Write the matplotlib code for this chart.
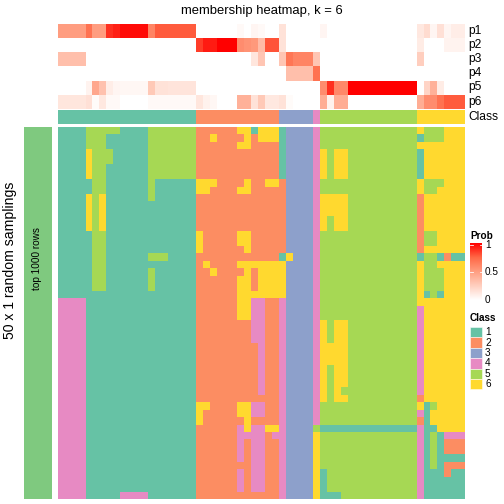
import numpy as np
import matplotlib
matplotlib.use('Agg')
import matplotlib.pyplot as plt
from matplotlib.colors import ListedColormap, LinearSegmentedColormap
from matplotlib.patches import Rectangle

plt.rcParams['font.family'] = ['Liberation Sans', 'DejaVu Sans']

# class colours (1..6)
CLASS_COLORS = ['#66C2A5', '#FC8D62', '#8DA0CB', '#E78AC3', '#A6D854', '#FFD92F']
CLASS_LABELS = ['1', '2', '3', '4', '5', '6']
PROB_ROWS = ['p1', 'p2', 'p3', 'p4', 'p5', 'p6']

# membership probabilities, one value per column (59 columns)
p1 = [0.50, 0.50, 0.50, 0.50, 0.70, 0.50, 0.50, 0.88, 0.92, 0.97,
      0.97, 0.97, 0.97, 0.62, 0.78, 0.78, 0.78, 0.78, 0.78, 0.78,
      0.00, 0.00, 0.00, 0.00, 0.00, 0.00, 0.03, 0.00, 0.05, 0.03,
      0.00, 0.00, 0.15, 0.00, 0.00, 0.00, 0.00, 0.00, 0.05, 0.00,
      0.00, 0.00, 0.00, 0.00, 0.00, 0.00, 0.00, 0.00, 0.00, 0.00,
      0.00, 0.00, 0.12, 0.18, 0.05, 0.16, 0.05, 0.09, 0.09]
p2 = [0.00, 0.00, 0.00, 0.00, 0.00, 0.00, 0.00, 0.00, 0.00, 0.00,
      0.00, 0.00, 0.00, 0.00, 0.00, 0.00, 0.00, 0.00, 0.00, 0.00,
      0.85, 0.93, 0.93, 1.00, 1.00, 1.00, 0.58, 0.55, 0.52, 0.35,
      0.80, 0.80, 0.15, 0.00, 0.00, 0.00, 0.00, 0.00, 0.00, 0.00,
      0.00, 0.00, 0.00, 0.00, 0.00, 0.00, 0.00, 0.00, 0.00, 0.00,
      0.00, 0.00, 0.10, 0.00, 0.00, 0.00, 0.06, 0.06, 0.06]
p3 = [0.33, 0.33, 0.33, 0.33, 0.00, 0.00, 0.00, 0.00, 0.00, 0.00,
      0.00, 0.00, 0.00, 0.00, 0.00, 0.00, 0.00, 0.00, 0.00, 0.00,
      0.00, 0.00, 0.00, 0.00, 0.00, 0.00, 0.00, 0.00, 0.13, 0.30,
      0.00, 0.00, 0.30, 0.68, 0.62, 0.62, 0.62, 0.30, 0.00, 0.00,
      0.00, 0.00, 0.00, 0.00, 0.00, 0.00, 0.00, 0.00, 0.00, 0.00,
      0.00, 0.00, 0.25, 0.00, 0.00, 0.00, 0.00, 0.00, 0.00]
p4 = [0.00, 0.00, 0.00, 0.00, 0.00, 0.00, 0.00, 0.00, 0.00, 0.00,
      0.00, 0.00, 0.00, 0.00, 0.00, 0.00, 0.00, 0.00, 0.00, 0.00,
      0.00, 0.00, 0.00, 0.00, 0.00, 0.00, 0.00, 0.00, 0.00, 0.00,
      0.00, 0.00, 0.00, 0.33, 0.33, 0.33, 0.33, 0.70, 0.00, 0.00,
      0.00, 0.00, 0.00, 0.00, 0.00, 0.00, 0.00, 0.00, 0.00, 0.00,
      0.00, 0.00, 0.00, 0.00, 0.00, 0.00, 0.00, 0.00, 0.00]
p5 = [0.00, 0.00, 0.00, 0.00, 0.06, 0.45, 0.32, 0.09, 0.05, 0.04,
      0.04, 0.04, 0.04, 0.28, 0.15, 0.15, 0.14, 0.14, 0.14, 0.14,
      0.00, 0.00, 0.00, 0.00, 0.00, 0.00, 0.00, 0.00, 0.00, 0.00,
      0.00, 0.00, 0.00, 0.00, 0.00, 0.00, 0.00, 0.00, 0.58, 0.88,
      0.60, 0.60, 1.00, 1.00, 1.00, 1.00, 1.00, 1.00, 1.00, 1.00,
      1.00, 1.00, 0.00, 0.22, 0.40, 0.10, 0.00, 0.00, 0.00]
p6 = [0.13, 0.13, 0.13, 0.13, 0.16, 0.02, 0.12, 0.03, 0.03, 0.00,
      0.00, 0.00, 0.00, 0.03, 0.03, 0.03, 0.03, 0.03, 0.03, 0.03,
      0.13, 0.07, 0.04, 0.00, 0.00, 0.00, 0.40, 0.40, 0.15, 0.28,
      0.12, 0.12, 0.15, 0.02, 0.00, 0.00, 0.00, 0.00, 0.42, 0.07,
      0.42, 0.42, 0.00, 0.00, 0.00, 0.00, 0.00, 0.00, 0.00, 0.00,
      0.00, 0.00, 0.42, 0.58, 0.58, 0.70, 0.78, 0.78, 0.78]

# consensus class per column
col_class = [1] * 20 + [2] * 12 + [3] * 5 + [4] + [5] * 14 + [6] * 7

# class of each column in each of the 50 random samplings
sampling_rows = [
    "11115555511115555555222222661666133334555555555555556555666",
    "11115551111115555555226222262666133334555555555555551555666",
    "11115551111115555555222222662222133334555555555555556666666",
    "11116555111115555555222222222222133334656655555555551666666",
    "11116555111115555555222222222222133334656655555555551666666",
    "11116551111115555555222222222222133334656655555555551666666",
    "11116551111115555555222222222222133334656655555555551666666",
    "11111551111115111111666222262266233334555555555555556555666",
    "11111551111115111111662222662222233334555555555555556556666",
    "11116561111115111111222222222222233334666655555555552666666",
    "11116561111111111111222222222222233334666655555555552666666",
    "11116561111111111111222222222222233334666655555555552666666",
    "11116561111111111111222222222222233334656655555555552666666",
    "11116561111111111111222222222222233334656655555555552666666",
    "11111551111111111111622222662222233334555555555555552556666",
    "11111551111111111111622222662222233334555555555555552556666",
    "11111551111111111111622222262222233334555555555555552666666",
    "11111551111115551111222222222222163334555555555555551551211",
    "11111551111111111111262222666666633334555555555555556556666",
    "11111551111115111111226222262666633334555555555555556555666",
    "11111551111115111111222222662666633334555555555555556555666",
    "11111551111115111111222222662666633334555555555555556555666",
    "11111111111111111111222222666666633334555555555555556151666",
    "44441111111111111111222222664422433334555555555555556666666",
    "44441111111111111111222222664422433334555555555555554666666",
    "44441111111111111111222222664422433334555555555555554666666",
    "44441111111111111111222222224422433334656655555555554666666",
    "44441111111111111111222222224422433334656655555555554666666",
    "44441111111111111111222222224422433334656655555555554666666",
    "44441111111111111111222222222422433334666655555555554666666",
    "44441111111111111111222222222422433334666655555555554666666",
    "44441111111111111111222222222422433334666655555555554666666",
    "44441111111111111111222222222422433334656655555555554666666",
    "44441111111111111111222222222422433334656655555555554666666",
    "44441111111111111111222222222422433334656655555555554666666",
    "44441111111111111111222222222422433334656555555555554666666",
    "44441111111111111111222222222222433334656655555555552666666",
    "44441111111111111111662222664422433334555555555555556156666",
    "44441111111111111111622222664422433334555555555555554166666",
    "44441111111111111111622222262222433334555555555555552166666",
    "44441111111111111111222222464466433335111111111111114116666",
    "44441111111111111111222222444424433336555555555555554151444",
    "44441111111111111111222222424422433336555555555555554151222",
    "44441111111111111111222222424422433336555555555555554151222",
    "44441111111111111111222222424422433336555555555555554151111",
    "44441111111111111111222222224422433336555555555555554151222",
    "44441111111111111111222222424422433336155555555555554111211",
    "44441111111111111111222222424422433336155555555555554111111",
    "44441111111111111111222222424422433336155555555555554111111",
    "44441111144441111111222222222222433336111555555555554111111",
]

LEFT_BAR_COLOR = '#7FC97F'

# white -> red ramp (LAB-like interpolation as in ComplexHeatmap)
prob_cmap = LinearSegmentedColormap.from_list(
    'prob', [(0.0, '#FFFFFF'), (0.25, '#FFCFBF'), (0.5, '#FF9E81'),
             (0.75, '#FF6846'), (1.0, '#FF0000')])
class_cmap = ListedColormap(CLASS_COLORS)

fig = plt.figure(figsize=(7, 7), dpi=72)
ax = fig.add_axes([0, 0, 1, 1])
ax.set_xlim(0, 504)
ax.set_ylim(504, 0)
ax.axis('off')

x0, x1 = 58, 465

# top probability annotation
prob = np.array([p1, p2, p3, p4, p5, p6])
ax.imshow(prob, cmap=prob_cmap, vmin=0, vmax=1, aspect='auto',
          interpolation='nearest', extent=(x0, x1, 108.7, 24))
for i, lab in enumerate(PROB_ROWS):
    ax.text(468, 24 + (i + 0.5) * 14.1, lab, fontsize=12, va='center', ha='left')

# class annotation
ax.imshow(np.array([col_class]) - 1, cmap=class_cmap, vmin=-0.5, vmax=5.5,
          aspect='auto', interpolation='nearest', extent=(x0, x1, 124, 110.3))
ax.text(468, 117, 'Class', fontsize=12, va='center', ha='left')

# main heatmap
mat = np.array([[int(ch) for ch in row] for row in sampling_rows]) - 1
ax.imshow(mat, cmap=class_cmap, vmin=-0.5, vmax=5.5, aspect='auto',
          interpolation='nearest', extent=(x0, x1, 499, 127))

# left annotation bar + row titles
ax.add_patch(Rectangle((24, 127), 27.5, 372, facecolor=LEFT_BAR_COLOR, edgecolor='none'))
ax.text(37.5, 259, 'top 1000 rows', fontsize=10, rotation=90, ha='center', va='center')
ax.text(10, 260, '50 x 1 random samplings', fontsize=14, rotation=90, ha='center', va='center')

ax.text(261.5, 11, 'membership heatmap, k = 6', fontsize=13, ha='center', va='center')

# legend: Prob
ax.text(470, 236, 'Prob', fontsize=10, fontweight='bold', ha='left', va='center')
grad = np.linspace(1, 0, 200).reshape(-1, 1)
ax.imshow(grad, cmap=prob_cmap, vmin=0, vmax=1, aspect='auto',
          extent=(470, 482, 300, 243))
for v, lab in [(1, '1'), (0.5, '0.5'), (0, '0')]:
    yy = 300 - v * 55.5
    ax.plot([470, 472.5], [yy, yy], color='white', lw=0.8)
    ax.plot([479.5, 482], [yy, yy], color='white', lw=0.8)
    ax.text(485, yy, lab, fontsize=10, ha='left', va='center')

# legend: Class
ax.text(470, 318, 'Class', fontsize=10, fontweight='bold', ha='left', va='center')
for i, (c, lab) in enumerate(zip(CLASS_COLORS, CLASS_LABELS)):
    yy = 327 + i * 10.4
    ax.add_patch(Rectangle((470, yy), 12, 10.4, facecolor=c, edgecolor='white', lw=0.5))
    ax.text(485, yy + 5.2, lab, fontsize=10, ha='left', va='center')

fig.savefig('out.png', dpi=72)
